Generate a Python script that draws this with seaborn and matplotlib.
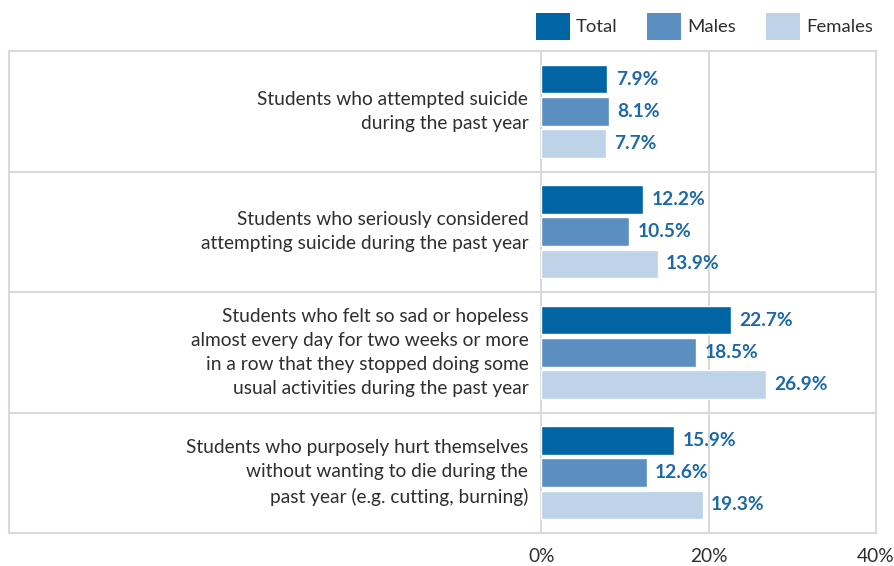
import matplotlib
matplotlib.use("Agg")
import matplotlib.pyplot as plt
import seaborn as sns
import pandas as pd
from matplotlib.patches import Patch

# Survey indicators (percent of students)
categories = [
    "Students who attempted suicide\nduring the past year",
    "Students who seriously considered\nattempting suicide during the past year",
    "Students who felt so sad or hopeless\nalmost every day for two weeks or more\n"
    "in a row that they stopped doing some\nusual activities during the past year",
    "Students who purposely hurt themselves\nwithout wanting to die during the\n"
    "past year (e.g. cutting, burning)",
]
groups = ["Total", "Males", "Females"]
total = [7.9, 12.2, 22.7, 15.9]
males = [8.1, 10.5, 18.5, 12.6]
females = [7.7, 13.9, 26.9, 19.3]
x_ticks = [0, 20, 40]
x_tick_labels = ["0%", "20%", "40%"]

colors = ["#0064A5", "#5B8FC2", "#BED2E8"]
label_color = "#1C69A8"
text_color = "#2E2E2E"
frame_color = "#D9D9D9"

rows = []
for g, vals in zip(groups, [total, males, females]):
    for c, v in zip(categories, vals):
        rows.append({"category": c, "group": g, "pct": v})
df = pd.DataFrame(rows)

sns.set_style("white")
plt.rcParams["font.family"] = ["Lato", "DejaVu Sans"]

W, H = 895, 566
fig = plt.figure(figsize=(W / 100, H / 100), dpi=100)
# axes box spans the label column and the bar area
ax = fig.add_axes([9 / W, 1 - 533 / H, (876 - 9) / W, (533 - 51) / H])

sns.barplot(
    data=df, y="category", x="pct", hue="group", hue_order=groups,
    order=categories, orient="h", palette=colors, width=0.8, gap=0.11,
    saturation=1, legend=False, ax=ax, errorbar=None,
)

px = 40 / (876 - 541.3)  # data units per pixel
ax.set_xlim(-(541.3 - 9) * px, 40)
ax.set_ylim(len(categories) - 0.5, -0.5)

for cont in ax.containers:
    ax.bar_label(cont, fmt="%.1f%%", padding=6, color=label_color,
                 fontsize=13.8, fontweight="bold")

# category labels in the left column
for i, c in enumerate(categories):
    ax.text(-13 * px, i, c, ha="right", va="center", fontsize=13.8,
            color=text_color, linespacing=1.5)

# frame, gridlines and group separators
for s in ax.spines.values():
    s.set_color(frame_color)
    s.set_linewidth(1.5)
for xv in x_ticks[:-1]:
    ax.axvline(xv, color=frame_color, lw=1.5, zorder=0)
for yv in [0.5, 1.5, 2.5]:
    ax.axhline(yv, color=frame_color, lw=1.5, zorder=0)

ax.set_xticks(x_ticks)
ax.set_xticklabels(x_tick_labels, fontsize=13.8, color=text_color)
ax.tick_params(axis="x", length=0, pad=11)
ax.set_yticks([])
ax.set_xlabel("")
ax.set_ylabel("")

handles = [Patch(facecolor=c, edgecolor="none", label=g) for g, c in zip(groups, colors)]
fig.legend(
    handles=handles, loc="upper right", bbox_to_anchor=(873 / W, 1 - 13 / H),
    ncol=3, frameon=False, fontsize=13.3, handlelength=1.84, handleheight=1.87,
    handletextpad=0.33, columnspacing=1.62, borderpad=0, borderaxespad=0,
    labelcolor=text_color,
)

fig.savefig("out.png", dpi=100)
